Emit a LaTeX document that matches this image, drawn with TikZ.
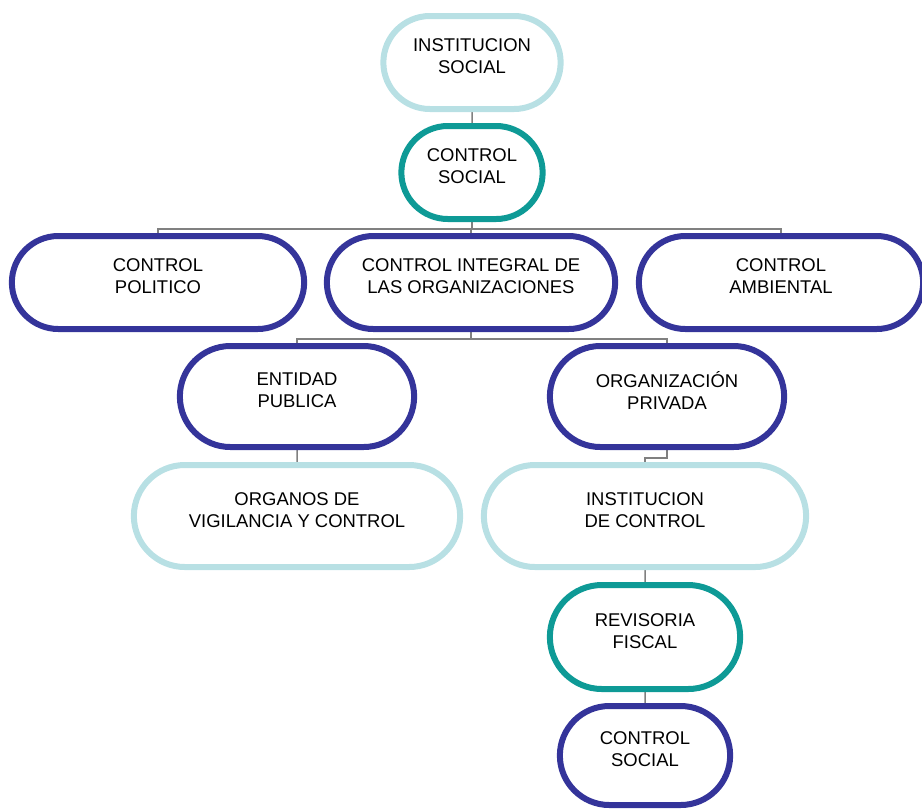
\documentclass[tikz,border=0pt]{standalone}
\usepackage{fontspec}
\setmainfont{Liberation Sans}
\usetikzlibrary{shapes.misc,backgrounds}
\definecolor{palecyan}{HTML}{B8E0E4}
\definecolor{tealrim}{HTML}{0E9A96}
\definecolor{indigorim}{HTML}{34349A}
\definecolor{wiregray}{HTML}{808080}
\tikzset{
    pill/.style 2 args={rounded rectangle, draw, fill=white, line width=0.12cm,
        minimum width=#1*0.02cm, minimum height=#2*0.02cm, align=center,
        font=\fontsize{10.5}{12.5}\selectfont, text depth=0.24cm},
    wire/.style={draw=wiregray, line width=0.03cm}
}
\begin{document}
\begin{tikzpicture}[x=0.02cm, y=-0.02cm]
    \useasboundingbox (0,0) rectangle (922,809);

    \node[pill={189}{93}, draw=palecyan] (inst) at (472,62.5) {INSTITUCION\\SOCIAL};
    \node[pill={153}{93}, draw=tealrim] (csoc) at (472,172.5) {CONTROL\\SOCIAL};
    \node[pill={304}{93}, draw=indigorim] (pol) at (158,282.5) {CONTROL\\POLITICO};
    \node[pill={300}{93}, draw=indigorim] (integ) at (471,282.5) {CONTROL INTEGRAL DE\\LAS ORGANIZACIONES};
    \node[pill={296}{93}, draw=indigorim] (amb) at (781,282.5) {CONTROL\\AMBIENTAL};
    \node[pill={246}{101}, draw=indigorim] (ent) at (297,396.5) {ENTIDAD\\PUBLICA};
    \node[pill={246}{101}, draw=indigorim] (org) at (667,396.5) {ORGANIZACIÓN\\PRIVADA};
    \node[pill={338}{102}, draw=palecyan] (organos) at (297,516) {ORGANOS DE\\VIGILANCIA Y CONTROL};
    \node[pill={334}{102}, draw=palecyan] (instc) at (645,516) {INSTITUCION\\DE CONTROL};
    \node[pill={202}{104}, draw=tealrim] (rev) at (645,637) {REVISORIA\\FISCAL};
    \node[pill={182}{99}, draw=indigorim] (csoc2) at (645,755.5) {CONTROL\\SOCIAL};

    \begin{scope}[on background layer]
        \draw[wire] (inst) -- (csoc);
        \foreach \k in {pol,integ,amb}
            \draw[wire] (csoc.south) -- ++(0,7) -| (\k.north);
        \foreach \k in {ent,org}
            \draw[wire] (integ.south) -- ++(0,7) -| (\k.north);
        \draw[wire] (ent) -- (organos);
        \draw[wire] (org.south) -- ++(0,8) -| (instc.north);
        \draw[wire] (instc) -- (rev);
        \draw[wire] (rev) -- (csoc2);
    \end{scope}
\end{tikzpicture}
\end{document}
